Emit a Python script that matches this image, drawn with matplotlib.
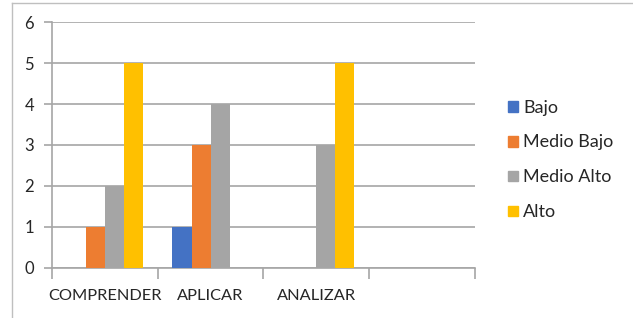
import numpy as np
import matplotlib
matplotlib.use("Agg")
from matplotlib import pyplot as plt
from matplotlib.lines import Line2D

plt.rcParams['font.family'] = ['Lato', 'DejaVu Sans']

categories = ["COMPRENDER", "APLICAR", "ANALIZAR", ""]
series_names = ["Bajo", "Medio Bajo", "Medio Alto", "Alto"]
bajo = [0, 1, 0, 0]
medio_bajo = [1, 3, 0, 0]
medio_alto = [2, 4, 3, 0]
alto = [5, 0, 5, 0]
colors = ["#4472C4", "#ED7D31", "#A5A5A5", "#FFC000"]

fig = plt.figure(figsize=(6.33, 3.18), dpi=100, facecolor="white")
ax = fig.add_axes([0.0821, 0.1582, 0.668, 0.7717])

x = np.arange(len(categories))
w = 0.18
for i, (vals, name) in enumerate(zip([bajo, medio_bajo, medio_alto, alto], series_names)):
    ax.bar(x + (i - 1.5) * w, vals, w, color=colors[i], label=name, zorder=3)

ax.set_xlim(-0.5, len(categories) - 0.5)
ax.set_ylim(0, 6)
ax.set_yticks(range(0, 7))
ax.yaxis.grid(True, color="#a6a6a6", linewidth=1.2, zorder=0)
for s in ["top", "right"]:
    ax.spines[s].set_visible(False)
ax.spines["left"].set_color("#a6a6a6")
ax.spines["bottom"].set_color("#a6a6a6")
ax.spines["left"].set_linewidth(1.2)
ax.spines["bottom"].set_linewidth(1.2)

# category labels centered, ticks at boundaries
ax.set_xticks(x)
ax.set_xticklabels(categories, fontsize=11.8, color="#262626")
ax.tick_params(axis="x", length=0, pad=15)
ax.set_xticks(np.arange(-0.5, len(categories)), minor=True)
ax.tick_params(axis="x", which="minor", length=8, color="#a6a6a6", width=1.2)
ax.tick_params(axis="y", length=6, color="#a6a6a6", width=1.2, labelsize=12,
               labelcolor="#262626", pad=7)

handles = [plt.Rectangle((0, 0), 1, 1, color=c) for c in colors]
fig.legend(handles, series_names, loc="center left", bbox_to_anchor=(0.8025, 0.497),
           frameon=False, fontsize=13, handlelength=0.55, handleheight=0.55,
           handletextpad=0.3, labelspacing=1.05, labelcolor="#262626",
           borderpad=0, borderaxespad=0)

# chart area border
fig.add_artist(Line2D([0.019, 0.019], [0, 0.99], transform=fig.transFigure,
                      color="#bfbfbf", linewidth=1))
fig.add_artist(Line2D([0.019, 1.0], [0.99, 0.99], transform=fig.transFigure,
                      color="#bfbfbf", linewidth=1))

fig.savefig("out.png", dpi=100)
